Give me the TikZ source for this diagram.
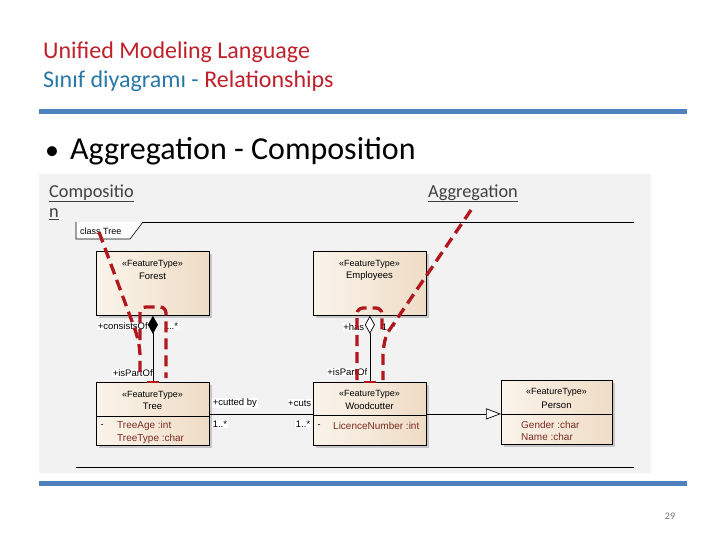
\documentclass[tikz,border=0pt]{standalone}
\usepackage{fontspec}
\setmainfont{Carlito}
\newfontfamily\umlfont{Liberation Sans}
\usetikzlibrary{arrows.meta}
\definecolor{titlered}{HTML}{C0202A}
\definecolor{titleblue}{HTML}{2A78A8}
\definecolor{barblue}{HTML}{4F81BD}
\definecolor{panelgray}{HTML}{F2F2F2}
\definecolor{annred}{HTML}{B0181E}
\definecolor{attrred}{HTML}{7A2A22}
\definecolor{boxl}{HTML}{FBF4EB}
\definecolor{boxr}{HTML}{EEDCC5}
\definecolor{lblgray}{HTML}{404040}
\begin{document}
\begin{tikzpicture}[x=1pt,y=-1pt,
  cls/.style={draw=black, line width=0.8pt, left color=boxl, right color=boxr,
    anchor=north west, minimum width=113pt, minimum height=64pt, inner sep=0pt},
  shadowbox/.style={fill=black!22},
  tt/.style={font=\umlfont\fontsize{9}{10}\selectfont, inner sep=0pt},
  ttn/.style={font=\umlfont\fontsize{9.5}{10}\selectfont, inner sep=0pt},
  lbl/.style={font=\umlfont\fontsize{9.5}{10}\selectfont, fill=white, inner sep=0.6pt},
  attrtxt/.style={font=\umlfont\fontsize{10}{11}\selectfont, inner sep=0pt, text=attrred, anchor=west},
  conn/.style={line width=0.7pt, draw=black},
  reddash/.style={draw=annred, line width=3.3pt, dash pattern=on 11pt off 6pt, rounded corners=6pt},
  titletxt/.style={font=\fontsize{24}{26}\selectfont, anchor=base west, inner sep=0pt},
  panellbl/.style={font=\fontsize{18.3}{20}\selectfont, text=lblgray, anchor=base west, inner sep=0pt}
]
\useasboundingbox (0,0) rectangle (720,540);
\fill[white] (0,0) rectangle (720,540);

% header
\node[titletxt, text=titlered] (title1) at (43,59) {Unified Modeling Language};
\node[titletxt] (title2) at (43,88) {\textcolor{titleblue}{Sınıf diyagramı -} \textcolor{titlered}{Relationships}};
\fill[barblue] (39,109) rectangle (687,114);
\node[font=\fontsize{28}{30}\selectfont, anchor=base west, inner sep=0pt] (bullet) at (45,160) {•};
\node[font=\fontsize{32}{34}\selectfont, anchor=base west, inner sep=0pt] (heading) at (70,160) {Aggregation - Composition};

% panel
\fill[panelgray] (39,174) rectangle (651,473);
\fill[barblue] (39,481) rectangle (687,486);
\node[font=\fontsize{10}{11}\selectfont, text=black!55, anchor=base] (pagenum) at (670,519) {29};

\node[panellbl] (complbl1) at (49,197) {\underline{Compositio}};
\node[panellbl] (complbl2) at (49,218) {\underline{n}};
\node[panellbl] (agglbl) at (428,197) {\underline{Aggregation}};

% frame
\draw[line width=0.8pt] (76,222) -- (634,222);
\draw[line width=0.8pt] (76,467) -- (634,467);
\filldraw[fill=white, draw=black, line width=0.6pt] (76,222) -- (76,239) -- (130,239) -- (143,222);
\node[font=\umlfont\fontsize{9}{10}\selectfont, anchor=west, inner sep=0pt] (framelbl) at (80,231) {class Tree};

% shadows
\fill[shadowbox] (99,254) rectangle (212,318);
\fill[shadowbox] (316,254) rectangle (429,318);
\fill[shadowbox] (99,385) rectangle (212,448);
\fill[shadowbox] (316,385) rectangle (429,448);
\fill[shadowbox] (504,383) rectangle (615,447);

% classes
\node[cls] (forest) at (96,251) {};
\node[cls] (employees) at (313,251) {};
\node[cls, minimum height=63pt] (tree) at (96,382) {};
\node[cls, minimum height=63pt] (woodcutter) at (313,382) {};
\node[cls, minimum width=111pt] (person) at (501,380) {};
\draw[line width=0.8pt] (96,416) -- (209,416);
\draw[line width=0.8pt] (313,415) -- (426,415);
\draw[line width=0.8pt] (501,414) -- (612,414);

\node[tt] (forestst) at (152.5,264) {«FeatureType»};
\node[ttn] (forestnm) at (152.5,276) {Forest};
\node[tt] (emplst) at (369.5,264) {«FeatureType»};
\node[ttn] (emplnm) at (369.5,276) {Employees};
\node[tt] (treest) at (152.5,395) {«FeatureType»};
\node[ttn] (treenm) at (152.5,406) {Tree};
\node[tt] (woodst) at (369.5,394) {«FeatureType»};
\node[ttn] (woodnm) at (369.5,406) {Woodcutter};
\node[tt] (persst) at (556.5,392) {«FeatureType»};
\node[ttn] (persnm) at (556.5,405) {Person};

\node[tt] (treedash) at (102,426) {-};
\node[attrtxt] (treeage) at (117,426) {TreeAge :int};
\node[attrtxt] (treetype) at (117,439) {TreeType :char};
\node[tt] (wooddash) at (319,426) {-};
\node[attrtxt] (licence) at (333,426) {LicenceNumber :int};
\node[attrtxt] (gender) at (521,425) {Gender :char};
\node[attrtxt] (name) at (521,437) {Name :char};

% connectors
\draw[conn, {Diamond[length=18pt,width=10pt]}-] (forest.south) -- (tree.north);
\draw[conn, {Diamond[open,fill=white,length=18pt,width=10pt]}-] (employees.south) -- (woodcutter.north);
\draw[conn] (tree.east) -- (woodcutter.west);
\draw[conn, -{Triangle[open,fill=white,length=15pt,width=11pt]}] (woodcutter.east) -- (woodcutter.east -| person.west);

% connector labels
\node[lbl, anchor=west] (consists) at (97,326) {+consistsOf};
\node[lbl, anchor=west] (compmult) at (163,326) {1..*};
\node[lbl, anchor=west] (ispart1) at (112,373) {+isPartOf};
\node[lbl, anchor=east] (has) at (365,327) {+has};
\node[lbl, anchor=west] (aggmult) at (381,327) {1..*};
\node[lbl, anchor=east] (ispart2) at (368,372) {+isPartOf};
\node[lbl, anchor=west] (cutted) at (212,403) {+cutted by};
\node[lbl, anchor=west] (cutmult1) at (212,424) {1..*};
\node[lbl, anchor=east] (cuts) at (312,403) {+cuts};
\node[lbl, anchor=east] (cutmult2) at (311,424) {1..*};

% red annotations
\coordinate (compstart) at (99,232);
\coordinate (aggstart) at (471,210);
\draw[reddash] (compstart) -- (137,335) -- (140,350) -- (140,376);
\draw[reddash] (140,340) -- (140,307) -- (166,307) -- (166,378);
\draw[annred, line width=2.2pt] (147,382) -- (159,382);
\draw[reddash] (aggstart) -- (386,335) -- (383,350) -- (383,380);
\draw[reddash] (357,380) -- (357,308) -- (382,308) -- (382,330);
\draw[annred, line width=2.2pt] (364,382) -- (376,382);
\end{tikzpicture}
\end{document}
